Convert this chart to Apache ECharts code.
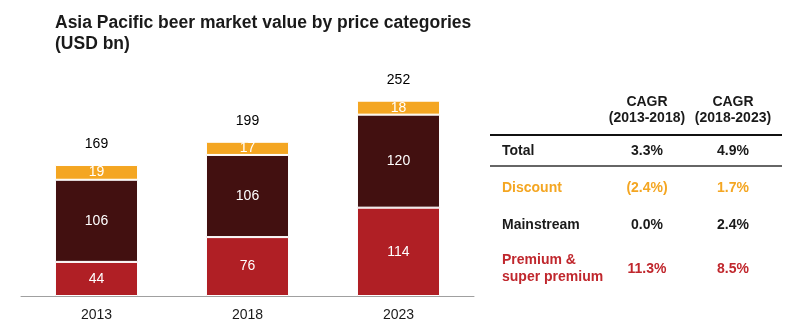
<!DOCTYPE html>
<html><head><meta charset="utf-8">
<script src="https://cdn.jsdelivr.net/npm/echarts@6/dist/echarts.min.js"></script>
<style>html,body{margin:0;padding:0;background:#fff}#c{width:799px;height:331px}</style>
</head><body><div id="c"></div>
<script>
const years = ['2013','2018','2023'];
const premium = [44, 76, 114];
const mainstream = [106, 106, 120];
const discount = [19, 17, 18];
const totals = [169, 199, 252];

const tableHeaders = [['CAGR','(2013-2018)'],['CAGR','(2018-2023)']];
const rowNames = ['Total','Discount','Mainstream','Premium &\nsuper premium'];
const cagr1 = ['3.3%','(2.4%)','0.0%','11.3%'];
const cagr2 = ['4.9%','1.7%','2.4%','8.5%'];

const RED = '#B01F25', DARK = '#421010', ORANGE = '#F4A622';
const rowColors = ['#1a1a1a', ORANGE, '#1a1a1a', '#C0272D'];
const rowY = [151, 188, 225, 269];
const FONT = 'Liberation Sans, Arial, sans-serif';

const chart = echarts.init(document.getElementById('c'));
const inLabel = {show:true, position:'inside', color:'#fff', fontSize:14, fontFamily:FONT};
const graphics = [];
[647, 733].forEach((x,i)=>{
  graphics.push({type:'text', x:x, y:110, style:{text:tableHeaders[i].join('\n'), fill:'#1a1a1a', font:'bold 14px '+FONT, textAlign:'center', textVerticalAlign:'middle', lineHeight:16}});
});
graphics.push({type:'line', shape:{x1:490,y1:135,x2:782,y2:135}, style:{stroke:'#111', lineWidth:2}});
graphics.push({type:'line', shape:{x1:490,y1:166,x2:782,y2:166}, style:{stroke:'#333', lineWidth:1.5}});
rowNames.forEach((n,i)=>{
  graphics.push({type:'text', x:502, y:rowY[i], style:{text:n, fill:rowColors[i], font:'bold 14px '+FONT, textAlign:'left', textVerticalAlign:'middle', lineHeight:17}});
  graphics.push({type:'text', x:647, y:rowY[i], style:{text:cagr1[i], fill:rowColors[i], font:'bold 14px '+FONT, textAlign:'center', textVerticalAlign:'middle'}});
  graphics.push({type:'text', x:733, y:rowY[i], style:{text:cagr2[i], fill:rowColors[i], font:'bold 14px '+FONT, textAlign:'center', textVerticalAlign:'middle'}});
});

chart.setOption({
  animation:false,
  title:{text:'Asia Pacific beer market value by price categories\n(USD bn)', left:50, top:8,
    textStyle:{fontSize:17.5, fontWeight:'bold', color:'#1a1a1a', fontFamily:FONT, lineHeight:21}},
  grid:{left:21, right:325, top:63.5, bottom:35},
  xAxis:{type:'category', data:years, axisTick:{show:false},
    axisLine:{lineStyle:{color:'#A0A0A0', width:1}},
    axisLabel:{color:'#1a1a1a', fontSize:14, fontFamily:FONT, margin:12}},
  yAxis:{type:'value', min:0, max:300, show:false, splitLine:{show:false}},
  series:[
    {name:'Premium', type:'bar', stack:'a', data:premium, barCategoryGap:'45%',
      itemStyle:{color:RED, borderColor:'#fff', borderWidth:1}, label:inLabel},
    {name:'Mainstream', type:'bar', stack:'a', data:mainstream,
      itemStyle:{color:DARK, borderColor:'#fff', borderWidth:1}, label:inLabel},
    {name:'Discount', type:'bar', stack:'a', data:discount,
      itemStyle:{color:ORANGE, borderColor:'#fff', borderWidth:1}, label:inLabel},
    {name:'Total', type:'scatter', data:totals, symbol:'circle', symbolSize:2, itemStyle:{color:'rgba(0,0,0,0)', opacity:1},
      label:{show:true, position:'top', distance:13, color:'#000', fontSize:14, fontFamily:FONT}}
  ],
  graphic:graphics
});
</script></body></html>
